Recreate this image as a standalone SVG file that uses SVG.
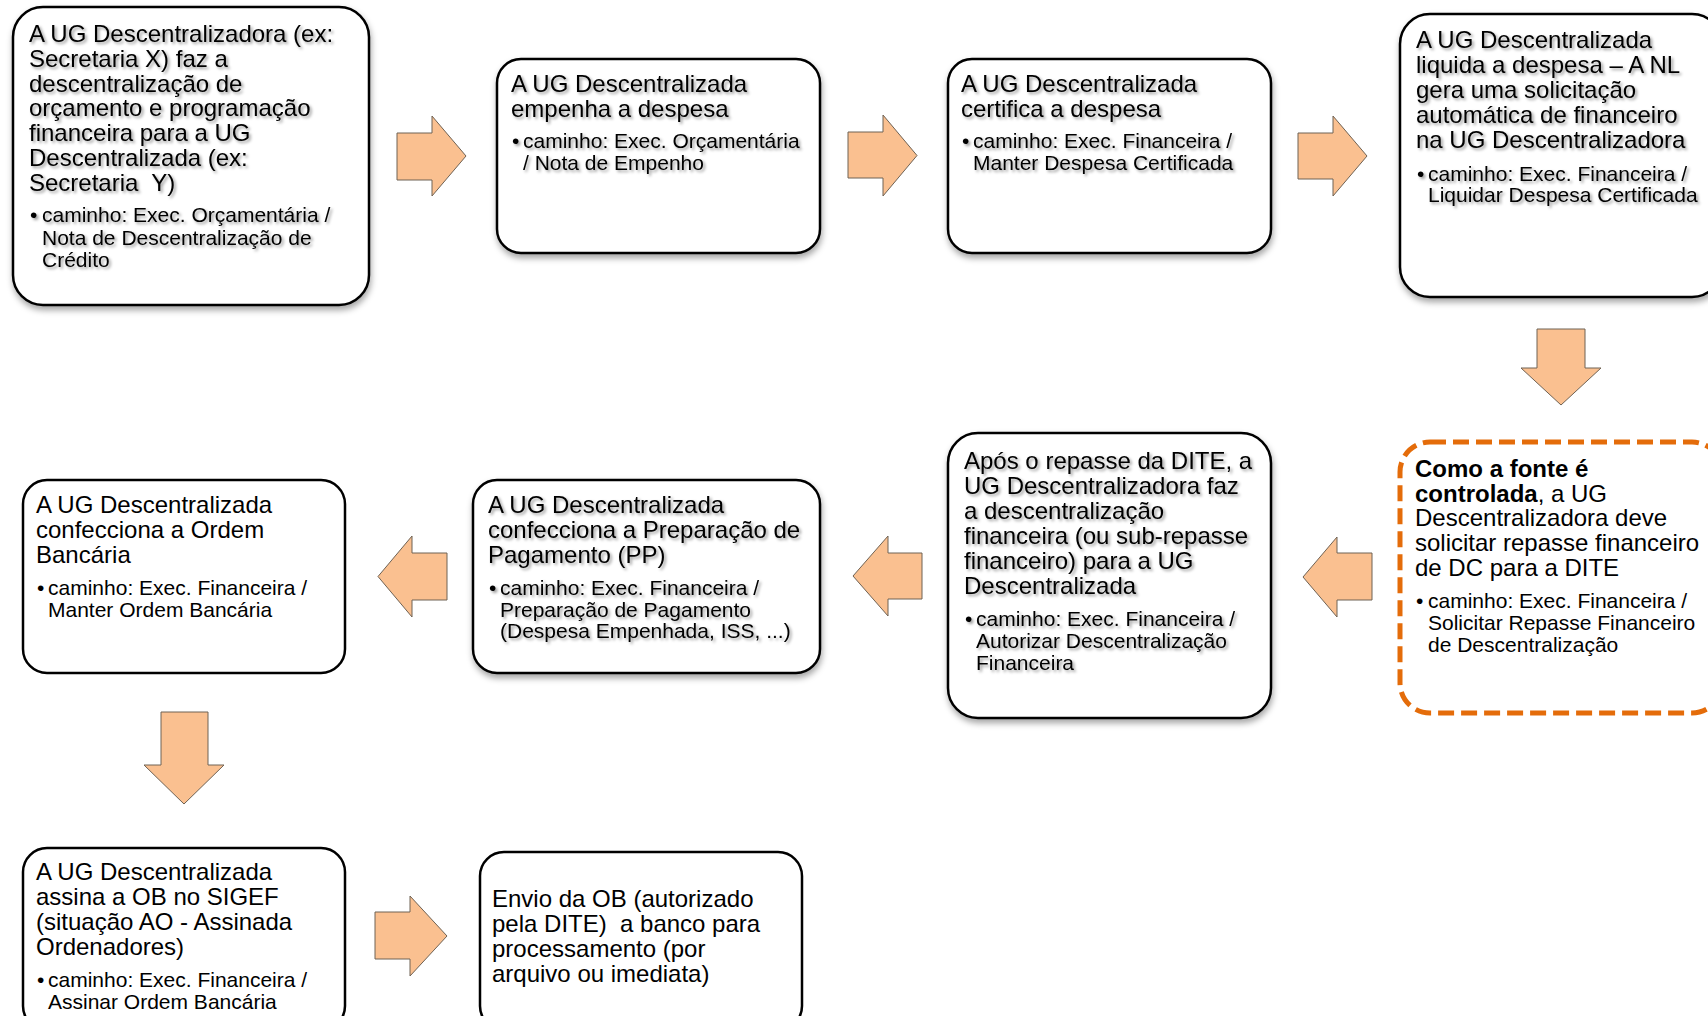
<svg xmlns="http://www.w3.org/2000/svg" width="1708" height="1016" viewBox="0 0 1708 1016">
<defs>
<filter id="boxShadow" x="-10%" y="-10%" width="130%" height="130%">
<feDropShadow dx="1" dy="4" stdDeviation="3" flood-color="#000" flood-opacity="0.35"/>
</filter>
<filter id="textShadow" x="-5%" y="-20%" width="115%" height="150%">
<feDropShadow dx="2" dy="2" stdDeviation="1.8" flood-color="#000" flood-opacity="0.4"/>
</filter>
<style>
.box{fill:#fff;stroke:#000;stroke-width:2.5}
.sh{filter:url(#boxShadow)}
.dash{fill:#fff;stroke:#E46C0A;stroke-width:5;stroke-dasharray:16 7}
.t{font-family:'Liberation Sans',Arial,sans-serif;font-size:24px;fill:#000;white-space:pre}
.b{font-size:21px}
.ts{filter:url(#textShadow)}
.arrow{fill:#FAC090;stroke:#6f6254;stroke-width:1}
</style>
</defs>
<rect width="1708" height="1016" fill="#fff"/>

<g id="connectors">
<path class="arrow" d="M397,133 H432 V116 L466,156 L432,196 V180 H397 Z"/>
<path class="arrow" d="M848,132 H883 V115 L917,155.5 L883,196 V178 H848 Z"/>
<path class="arrow" d="M1298,133 H1333 V116 L1367,156 L1333,196 V179 H1298 Z"/>
<path class="arrow" d="M1537,329 H1585 V368 H1601 L1561,405 L1521,368 H1537 Z"/>
<path class="arrow" d="M1372,553 V600 H1337 V617 L1303,577 L1337,537 V553 Z"/>
<path class="arrow" d="M922,553 V599 H888 V616 L853,576 L888,536 V553 Z"/>
<path class="arrow" d="M447,553 V600 H412 V617 L378,576.5 L412,536 V553 Z"/>
<path class="arrow" d="M161,712 H208 V765 H224 L184,804 L144,765 H161 Z"/>
<path class="arrow" d="M375,912 H410 V896 L447,936 L410,976 V959 H375 Z"/>
</g>

<g id="n1">
<rect class="box sh" x="13" y="7" width="356" height="298" rx="30"/>
<g class="ts">
<text class="t"><tspan x="29" y="42">A UG Descentralizadora (ex:</tspan><tspan x="29" y="66.8">Secretaria X) faz a</tspan><tspan x="29" y="91.6">descentralização de</tspan><tspan x="29" y="116.4">orçamento e programação</tspan><tspan x="29" y="141.2">financeira para a UG</tspan><tspan x="29" y="166">Descentralizada (ex:</tspan><tspan x="29" y="190.8">Secretaria  Y)</tspan></text>
<text class="t b"><tspan x="30" y="222">•</tspan><tspan x="42" y="222">caminho: Exec. Orçamentária /</tspan><tspan x="42" y="244.5">Nota de Descentralização de</tspan><tspan x="42" y="267">Crédito</tspan></text>
</g>
</g>

<g id="n2">
<rect class="box sh" x="497" y="59" width="323" height="194" rx="24"/>
<g class="ts">
<text class="t"><tspan x="511" y="91.5">A UG Descentralizada</tspan><tspan x="511" y="116.5">empenha a despesa</tspan></text>
<text class="t b"><tspan x="512" y="148">•</tspan><tspan x="523" y="148">caminho: Exec. Orçamentária</tspan><tspan x="523" y="169.5">/ Nota de Empenho</tspan></text>
</g>
</g>

<g id="n3">
<rect class="box sh" x="948" y="59" width="323" height="194" rx="24"/>
<g class="ts">
<text class="t"><tspan x="961" y="91.5">A UG Descentralizada</tspan><tspan x="961" y="116.5">certifica a despesa</tspan></text>
<text class="t b"><tspan x="962" y="148">•</tspan><tspan x="973" y="148">caminho: Exec. Financeira /</tspan><tspan x="973" y="169.5">Manter Despesa Certificada</tspan></text>
</g>
</g>

<g id="n4">
<rect class="box sh" x="1400" y="14" width="322" height="283" rx="30"/>
<g class="ts">
<text class="t"><tspan x="1416" y="48">A UG Descentralizada</tspan><tspan x="1416" y="73">liquida a despesa – A NL</tspan><tspan x="1416" y="98">gera uma solicitação</tspan><tspan x="1416" y="123">automática de financeiro</tspan><tspan x="1416" y="148">na UG Descentralizadora</tspan></text>
<text class="t b"><tspan x="1417" y="180.5">•</tspan><tspan x="1428" y="180.5">caminho: Exec. Financeira /</tspan><tspan x="1428" y="202">Liquidar Despesa Certificada</tspan></text>
</g>
</g>

<g id="n5">
<rect class="dash" x="1400" y="442" width="322" height="271" rx="30"/>
<text class="t"><tspan x="1415" y="477" font-weight="bold">Como a fonte é</tspan><tspan x="1415" y="501.5" font-weight="bold">controlada</tspan><tspan>, a UG</tspan><tspan x="1415" y="526">Descentralizadora deve</tspan><tspan x="1415" y="550.5">solicitar repasse financeiro</tspan><tspan x="1415" y="575.5">de DC para a DITE</tspan></text>
<text class="t b"><tspan x="1416" y="608">•</tspan><tspan x="1428" y="608">caminho: Exec. Financeira /</tspan><tspan x="1428" y="630">Solicitar Repasse Financeiro</tspan><tspan x="1428" y="652">de Descentralização</tspan></text>
</g>

<g id="n6">
<rect class="box sh" x="948" y="433" width="323" height="285" rx="30"/>
<g class="ts">
<text class="t"><tspan x="964" y="469">Após o repasse da DITE, a</tspan><tspan x="964" y="494">UG Descentralizadora faz</tspan><tspan x="964" y="519">a descentralização</tspan><tspan x="964" y="544">financeira (ou sub-repasse</tspan><tspan x="964" y="569">financeiro) para a UG</tspan><tspan x="964" y="594">Descentralizada</tspan></text>
<text class="t b"><tspan x="965" y="626">•</tspan><tspan x="976" y="626">caminho: Exec. Financeira /</tspan><tspan x="976" y="648">Autorizar Descentralização</tspan><tspan x="976" y="670">Financeira</tspan></text>
</g>
</g>

<g id="n7">
<rect class="box sh" x="473" y="480" width="347" height="193" rx="24"/>
<g class="ts">
<text class="t"><tspan x="488" y="513">A UG Descentralizada</tspan><tspan x="488" y="538">confecciona a Preparação de</tspan><tspan x="488" y="563">Pagamento (PP)</tspan></text>
<text class="t b"><tspan x="489" y="595">•</tspan><tspan x="500" y="595">caminho: Exec. Financeira /</tspan><tspan x="500" y="616.5">Preparação de Pagamento</tspan><tspan x="500" y="638">(Despesa Empenhada, ISS, ...)</tspan></text>
</g>
</g>

<g id="n8">
<rect class="box" x="23" y="480" width="322" height="193" rx="24"/>
<text class="t"><tspan x="36" y="513">A UG Descentralizada</tspan><tspan x="36" y="538">confecciona a Ordem</tspan><tspan x="36" y="562.5">Bancária</tspan></text>
<text class="t b"><tspan x="37" y="595">•</tspan><tspan x="48" y="595">caminho: Exec. Financeira /</tspan><tspan x="48" y="617">Manter Ordem Bancária</tspan></text>
</g>

<g id="n9">
<rect class="box" x="23" y="848" width="322" height="182" rx="24"/>
<text class="t"><tspan x="36" y="880">A UG Descentralizada</tspan><tspan x="36" y="905">assina a OB no SIGEF</tspan><tspan x="36" y="930">(situação AO - Assinada</tspan><tspan x="36" y="955">Ordenadores)</tspan></text>
<text class="t b"><tspan x="37" y="987">•</tspan><tspan x="48" y="987">caminho: Exec. Financeira /</tspan><tspan x="48" y="1009">Assinar Ordem Bancária</tspan></text>
</g>

<g id="n10">
<rect class="box" x="480" y="852" width="322" height="178" rx="24"/>
<text class="t"><tspan x="492" y="907">Envio da OB (autorizado</tspan><tspan x="492" y="932">pela DITE)  a banco para</tspan><tspan x="492" y="957">processamento (por</tspan><tspan x="492" y="982">arquivo ou imediata)</tspan></text>
</g>
</svg>
